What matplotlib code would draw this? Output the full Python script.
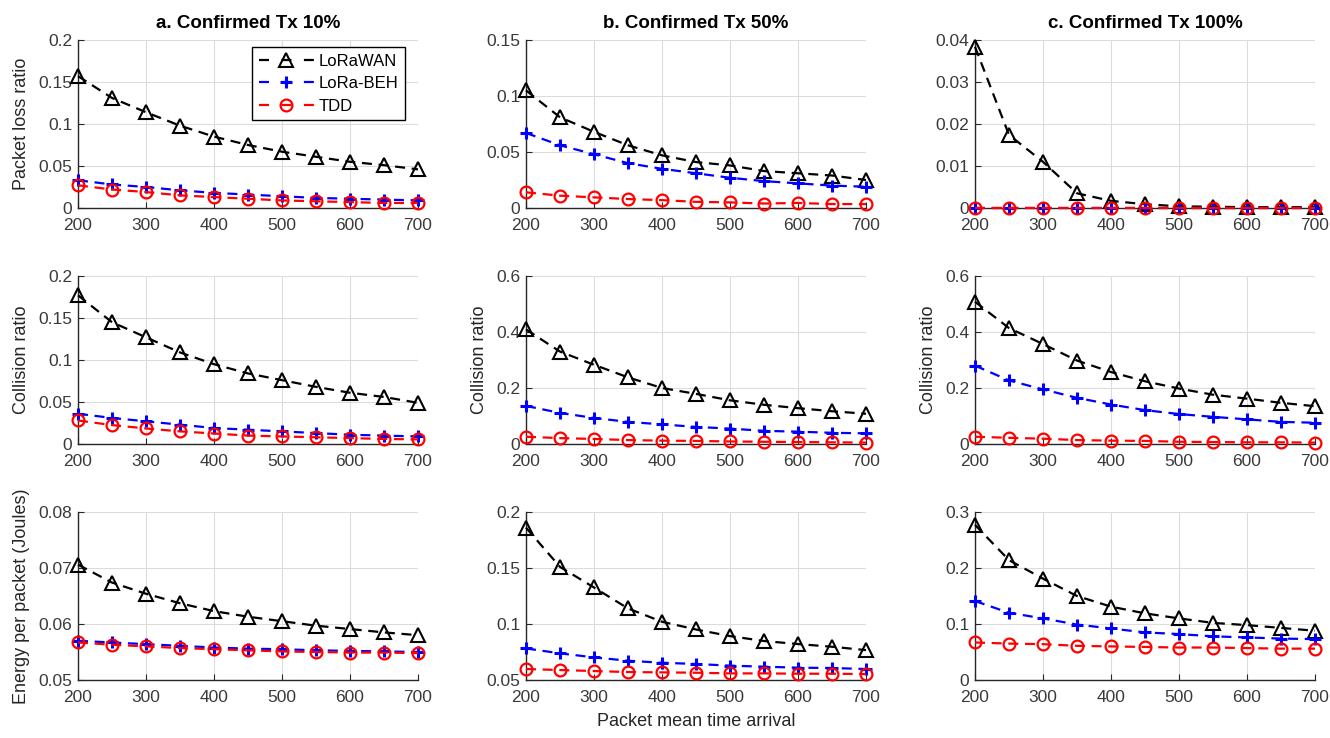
import matplotlib
matplotlib.use("Agg")
import matplotlib.pyplot as plt
from matplotlib.ticker import FuncFormatter
from matplotlib.legend_handler import HandlerLine2D

plt.rcParams['font.family'] = ['Liberation Sans', 'DejaVu Sans']

x = [200, 250, 300, 350, 400, 450, 500, 550, 600, 650, 700]
series_names = ["LoRaWAN", "LoRa-BEH", "TDD"]
col_titles = ["a. Confirmed Tx 10%", "b. Confirmed Tx 50%", "c. Confirmed Tx 100%"]

# Packet loss ratio
loss_10_lorawan = [0.157, 0.131, 0.114, 0.098, 0.085, 0.075, 0.067, 0.061, 0.055, 0.051, 0.046]
loss_10_beh = [0.033, 0.028, 0.025, 0.021, 0.018, 0.016, 0.014, 0.012, 0.011, 0.010, 0.009]
loss_10_tdd = [0.027, 0.022, 0.019, 0.015, 0.013, 0.011, 0.009, 0.008, 0.007, 0.006, 0.006]

loss_50_lorawan = [0.105, 0.081, 0.068, 0.056, 0.047, 0.041, 0.038, 0.033, 0.031, 0.029, 0.025]
loss_50_beh = [0.067, 0.056, 0.048, 0.040, 0.035, 0.031, 0.027, 0.024, 0.022, 0.020, 0.019]
loss_50_tdd = [0.014, 0.011, 0.0095, 0.008, 0.007, 0.0055, 0.005, 0.004, 0.0045, 0.0035, 0.0035]

loss_100_lorawan = [0.0384, 0.0174, 0.011, 0.0035, 0.0017, 0.0009, 0.0004, 0.0003, 0.0002, 0.0002, 0.0002]
loss_100_beh = [0.0001, 0.0001, 0.0001, 0.0001, 0.0001, 0.0001, 0.0001, 0.0001, 0.0001, 0.0001, 0.0001]
loss_100_tdd = [0.0, 0.0, 0.0, 0.0, 0.0, 0.0, 0.0, 0.0, 0.0, 0.0, 0.0]

# Collision ratio
coll_10_lorawan = [0.177, 0.145, 0.127, 0.109, 0.095, 0.084, 0.076, 0.068, 0.061, 0.056, 0.049]
coll_10_beh = [0.036, 0.031, 0.027, 0.023, 0.019, 0.017, 0.015, 0.013, 0.011, 0.010, 0.009]
coll_10_tdd = [0.028, 0.0225, 0.0185, 0.015, 0.0125, 0.010, 0.009, 0.008, 0.007, 0.006, 0.0055]

coll_50_lorawan = [0.409, 0.330, 0.283, 0.238, 0.200, 0.179, 0.156, 0.140, 0.128, 0.117, 0.108]
coll_50_beh = [0.136, 0.111, 0.093, 0.079, 0.070, 0.061, 0.055, 0.047, 0.044, 0.040, 0.038]
coll_50_tdd = [0.026, 0.021, 0.018, 0.014, 0.012, 0.011, 0.009, 0.008, 0.007, 0.006, 0.005]

coll_100_lorawan = [0.508, 0.414, 0.357, 0.298, 0.257, 0.224, 0.198, 0.176, 0.162, 0.147, 0.135]
coll_100_beh = [0.280, 0.227, 0.195, 0.165, 0.141, 0.121, 0.107, 0.097, 0.088, 0.079, 0.076]
coll_100_tdd = [0.026, 0.022, 0.019, 0.014, 0.012, 0.011, 0.008, 0.007, 0.006, 0.006, 0.005]

# Energy per packet (Joules)
energy_10_lorawan = [0.0706, 0.0674, 0.0654, 0.0637, 0.0623, 0.0613, 0.0605, 0.0597, 0.0591, 0.0585, 0.0580]
energy_10_beh = [0.0570, 0.0567, 0.0564, 0.0561, 0.0558, 0.0556, 0.0555, 0.0553, 0.0552, 0.0551, 0.0550]
energy_10_tdd = [0.0567, 0.0563, 0.0560, 0.0557, 0.0555, 0.0553, 0.0551, 0.0550, 0.0549, 0.0549, 0.0548]

energy_50_lorawan = [0.186, 0.151, 0.1326, 0.1139, 0.102, 0.0951, 0.0892, 0.0848, 0.0821, 0.0797, 0.0767]
energy_50_beh = [0.0782, 0.0738, 0.0702, 0.0672, 0.0654, 0.0643, 0.0628, 0.0619, 0.0610, 0.0607, 0.0598]
energy_50_tdd = [0.0598, 0.0589, 0.0580, 0.0571, 0.0568, 0.0565, 0.0559, 0.0559, 0.0556, 0.0556, 0.0553]

energy_100_lorawan = [0.277, 0.214, 0.181, 0.150, 0.131, 0.119, 0.110, 0.102, 0.098, 0.093, 0.088]
energy_100_beh = [0.141, 0.120, 0.110, 0.099, 0.092, 0.085, 0.082, 0.078, 0.076, 0.074, 0.073]
energy_100_tdd = [0.067, 0.065, 0.064, 0.061, 0.060, 0.059, 0.058, 0.058, 0.057, 0.056, 0.056]

grid_data = [
    [(loss_10_lorawan, loss_10_beh, loss_10_tdd),
     (loss_50_lorawan, loss_50_beh, loss_50_tdd),
     (loss_100_lorawan, loss_100_beh, loss_100_tdd)],
    [(coll_10_lorawan, coll_10_beh, coll_10_tdd),
     (coll_50_lorawan, coll_50_beh, coll_50_tdd),
     (coll_100_lorawan, coll_100_beh, coll_100_tdd)],
    [(energy_10_lorawan, energy_10_beh, energy_10_tdd),
     (energy_50_lorawan, energy_50_beh, energy_50_tdd),
     (energy_100_lorawan, energy_100_beh, energy_100_tdd)],
]

ylims = [
    [(0, 0.2, 0.05), (0, 0.15, 0.05), (0, 0.04, 0.01)],
    [(0, 0.2, 0.05), (0, 0.6, 0.2), (0, 0.6, 0.2)],
    [(0.05, 0.08, 0.01), (0.05, 0.2, 0.05), (0, 0.3, 0.1)],
]

ylabels = [
    ["Packet loss ratio", None, None],
    ["Collision ratio", "Collision ratio", "Collision ratio"],
    ["Energy per packet (Joules)", None, None],
]

styles = [
    dict(color="black", marker="^", markersize=10.5, markerfacecolor="none", markeredgewidth=1.5),
    dict(color="#0000ff", marker="+", markersize=9, markeredgewidth=2.2),
    dict(color="#ff0000", marker="o", markersize=8.5, markerfacecolor="none", markeredgewidth=1.6),
]

W, H = 1330, 738
fig = plt.figure(figsize=(W / 100, H / 100), dpi=100)

lefts = [78, 526, 975]
bottoms = [208, 444, 680]
aw, ah = 340, 168

fmt = FuncFormatter(lambda v, p: ("%g" % round(v, 6)))
axis_gray = "#262626"


def legend_dashes(legline, orig):
    # copy the series style, then use a dash - marker - dash sample
    legline.update_from(orig)
    legline.set_linestyle((0, (4.5, 5.6)))


for r in range(3):
    for c in range(3):
        ax = fig.add_axes([lefts[c] / W, 1 - bottoms[r] / H, aw / W, ah / H])
        for vals, name, st in zip(grid_data[r][c], series_names, styles):
            ax.plot(x, vals, linestyle=(0, (4.5, 3)), linewidth=1.6, label=name,
                    clip_on=False, zorder=3, **st)
        y0, y1, step = ylims[r][c]
        ax.set_xlim(200, 700)
        ax.set_ylim(y0, y1)
        n = int(round((y1 - y0) / step))
        ax.set_yticks([y0 + i * step for i in range(n + 1)])
        ax.set_xticks(range(200, 701, 100))
        ax.yaxis.set_major_formatter(fmt)
        ax.grid(True, color="#dcdcdc", linewidth=0.8)
        ax.set_axisbelow(True)
        for side in ("top", "right"):
            ax.spines[side].set_visible(False)
        for side in ("left", "bottom"):
            ax.spines[side].set_color(axis_gray)
            ax.spines[side].set_linewidth(1.0)
        ax.tick_params(direction="in", length=4, width=0.8, colors=axis_gray,
                       labelsize=12.5, labelcolor="#3a3a3a")
        ax.tick_params(axis="x", pad=7)
        ax.tick_params(axis="y", pad=4)
        if ylabels[r][c]:
            ax.set_ylabel(ylabels[r][c], fontsize=13, color="#262626", labelpad=6)
        if r == 0:
            ax.set_title(col_titles[c], fontsize=13.5, fontweight="bold", pad=9)
        if r == 2 and c == 1:
            ax.set_xlabel("Packet mean time arrival", fontsize=13, color="#262626", labelpad=6)
        if r == 0 and c == 0:
            leg = ax.legend(loc="upper right",
                            bbox_to_anchor=((405 - 78) / aw, (208 - 47) / ah),
                            borderaxespad=0, fontsize=12, handlelength=3.3,
                            fancybox=False, edgecolor="black", framealpha=1,
                            borderpad=0.4, labelspacing=0.45, handletextpad=0.3,
                            handler_map={ln: HandlerLine2D(update_func=legend_dashes)
                                         for ln in ax.get_lines()})
            leg.get_frame().set_linewidth(1.0)
            leg.set_zorder(5)

fig.savefig("out.png", dpi=100)
